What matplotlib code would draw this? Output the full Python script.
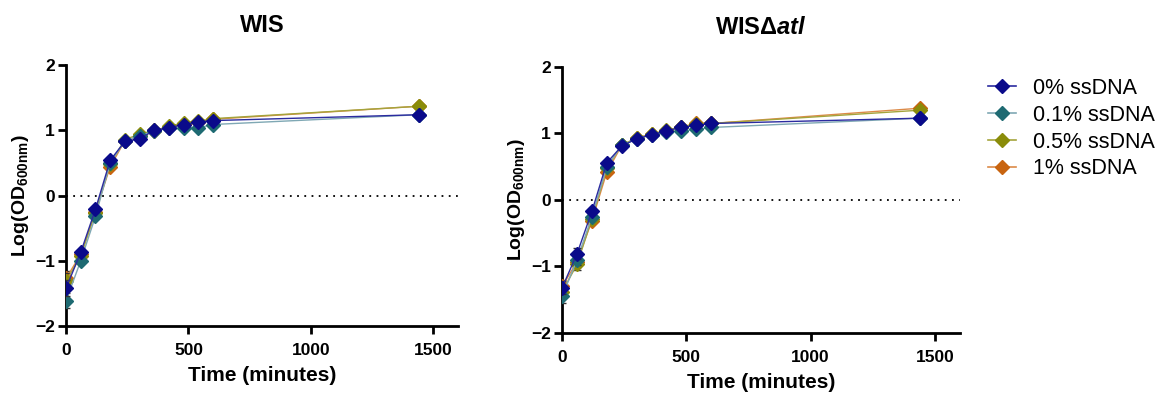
import matplotlib
matplotlib.use("Agg")
import matplotlib.pyplot as plt
from matplotlib.lines import Line2D
import numpy as np

plt.rcParams['font.family'] = ['Liberation Sans', 'DejaVu Sans']
plt.rcParams['mathtext.fontset'] = 'custom'
plt.rcParams['mathtext.rm'] = 'Liberation Sans:bold'
plt.rcParams['mathtext.bf'] = 'Liberation Sans:bold'
plt.rcParams['mathtext.it'] = 'Liberation Sans:bold:italic'

# time points (minutes)
time = [0, 60, 120, 180, 240, 300, 360, 420, 480, 540, 600, 1440]
labels = ["0% ssDNA", "0.1% ssDNA", "0.5% ssDNA", "1% ssDNA"]

# WIS
wis_0 = [-1.42, -0.87, -0.21, 0.54, 0.83, 0.87, 1.00, 1.04, 1.09, 1.13, 1.15, 1.24]
wis_01 = [-1.61, -1.00, -0.32, 0.50, 0.84, 0.92, 0.99, 1.03, 1.04, 1.04, 1.09, 1.24]
wis_05 = [-1.31, -0.93, -0.26, 0.48, 0.86, 0.94, 1.00, 1.06, 1.12, 1.14, 1.18, 1.37]
wis_1 = [-1.27, -0.90, -0.25, 0.44, 0.84, 0.92, 0.99, 1.05, 1.10, 1.13, 1.17, 1.37]
wis_err = [0.12, 0.04, 0.03, 0.03, 0.02, 0.02, 0.02, 0.02, 0.02, 0.02, 0.02, 0.02]

# WIS delta atl
atl_0 = [-1.32, -0.81, -0.17, 0.56, 0.81, 0.92, 0.98, 1.04, 1.09, 1.12, 1.15, 1.23]
atl_01 = [-1.45, -0.90, -0.25, 0.50, 0.82, 0.92, 0.98, 1.02, 1.04, 1.06, 1.09, 1.23]
atl_05 = [-1.38, -0.97, -0.28, 0.48, 0.83, 0.93, 0.99, 1.05, 1.10, 1.14, 1.15, 1.35]
atl_1 = [-1.30, -0.93, -0.31, 0.42, 0.82, 0.93, 0.99, 1.04, 1.10, 1.15, 1.15, 1.38]
atl_err = [0.10, 0.08, 0.04, 0.03, 0.02, 0.02, 0.02, 0.02, 0.02, 0.02, 0.02, 0.02]

marker_colors = ["#0a0a8a", "#1e6a72", "#8a8c0a", "#c86410"]
line_colors = ["#2b2ba0", "#7fa8b4", "#a4a43c", "#dc8a48"]

fig = plt.figure(figsize=(11.59, 3.94), dpi=100)
ax1 = fig.add_axes([0.057, 0.1726, 0.338, 0.662])
ax2 = fig.add_axes([0.485, 0.155, 0.343, 0.675])

panels = [
    (ax1, [wis_0, wis_01, wis_05, wis_1], wis_err, "WIS"),
    (ax2, [atl_0, atl_01, atl_05, atl_1], atl_err, r"WIS$\Delta\mathit{atl}$"),
]

for ax, series, err, title in panels:
    ax.axhline(0, color="k", linestyle=(0, (1, 3)), linewidth=1.3, zorder=1)
    # draw in reverse so 0% sits on top
    for i in [3, 2, 1, 0]:
        ax.errorbar(time, series[i], yerr=err, color=line_colors[i], ecolor="#333333",
                    elinewidth=0.8, capsize=3, linewidth=1.0, marker="D",
                    markersize=7.5, markerfacecolor=marker_colors[i],
                    markeredgecolor=marker_colors[i], zorder=3 + (3 - i))
    ax.set_xlim(0, 1600)
    ax.set_ylim(-2, 2)
    ax.set_xticks([0, 500, 1000, 1500])
    ax.set_yticks([-2, -1, 0, 1, 2])
    for s in ["top", "right"]:
        ax.spines[s].set_visible(False)
    for s in ["left", "bottom"]:
        ax.spines[s].set_linewidth(2)
    ax.tick_params(width=2, length=6, labelsize=12.5)
    ax.tick_params(axis="x", pad=6)
    ax.tick_params(axis="y", pad=2)
    for t in ax.get_xticklabels() + ax.get_yticklabels():
        t.set_fontweight("bold")
    ax.set_xlabel("Time (minutes)", fontsize=15, fontweight="bold", labelpad=6)
    ax.set_ylabel(r"Log(OD$_{\mathbf{600nm}}$)", fontsize=14, fontweight="bold", labelpad=3)
    ax.set_title(title, fontsize=17, fontweight="bold", pad=24)

handles = [Line2D([], [], color=line_colors[i], linewidth=1.2, marker="D", markersize=7,
                  markerfacecolor=marker_colors[i], markeredgecolor=marker_colors[i])
           for i in range(4)]
fig.legend(handles, labels, loc="upper left",
           bbox_to_anchor=(0.841, 0.835), frameon=False, fontsize=15.5,
           handlelength=1.3, handletextpad=0.8, labelspacing=0.27,
           borderpad=0.3, borderaxespad=0.3)

fig.savefig("out.png", dpi=100)
